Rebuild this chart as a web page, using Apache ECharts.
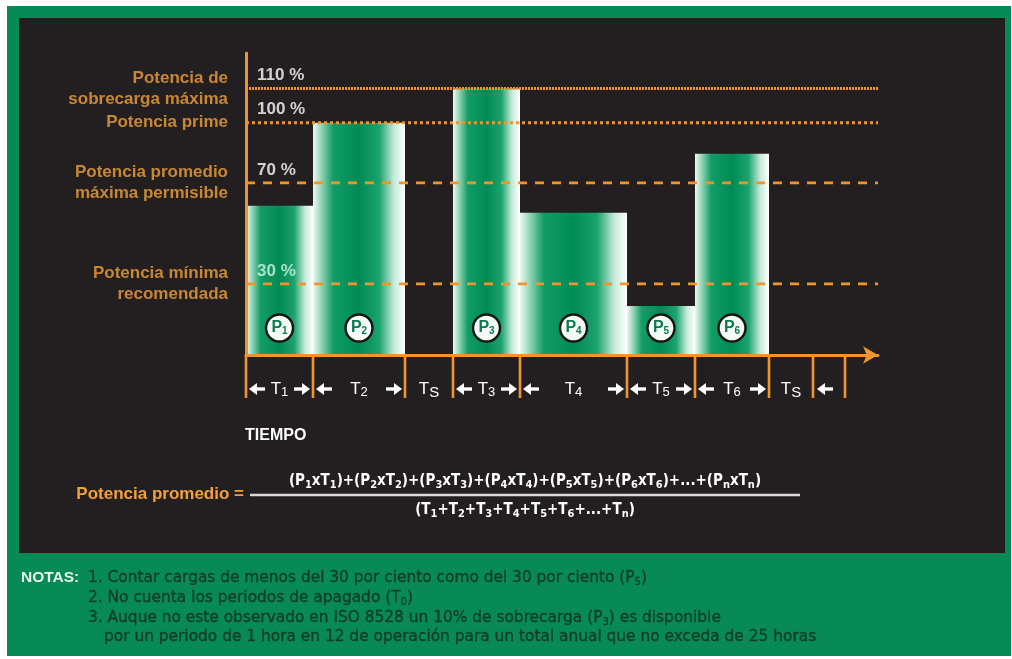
<!DOCTYPE html>
<html><head><meta charset="utf-8">
<script src="https://cdn.jsdelivr.net/npm/echarts@6/dist/echarts.min.js"></script>
<style>html,body{margin:0;padding:0;background:#fff}#c{width:1012px;height:659px}</style>
</head><body><div id="c"></div>
<script>
// ---- data (heights are "as drawn", in % of prime power) ----
const levelValues = [114.7, 100, 74.1, 30.6];
const levelPercentLabels = ['110 %', '100 %', '70 %', '30 %'];
const levelNames = ['Potencia de\nsobrecarga máxima', 'Potencia prime', 'Potencia promedio\nmáxima permisible', 'Potencia mínima\nrecomendada'];
const segmentNames = ['1', '2', 'S', '3', '4', '5', '6', 'S', ''];
const segmentDurations = [67, 92, 48, 67, 107, 68, 74, 44, 32];
const loadNames = ['1', '2', null, '3', '4', '5', '6', null, null];
const loadValues = [64.2, 100, null, 114.7, 61.2, 21.1, 86.6, null, null];
const axisMaxX = 632;
const axisMaxY = 130;

// ---- build ----
const ORANGE = '#ef952c';
const LABEL_OR = '#f3a038';
const GREEN = '#078a55';
const DARK = '#231f20';
const NOTE = '#113d27';
const FONT = 'Liberation Sans, Arial, sans-serif';
const WIDE = '"DejaVu Sans", "Liberation Sans", sans-serif';
const NARROW = '"Liberation Sans Narrow", "DejaVu Sans Condensed", "Liberation Sans", sans-serif';

const starts = [];
let acc = 0;
segmentDurations.forEach(d => { starts.push(acc); acc += d; });

const barData = [];
loadValues.forEach((v, i) => { if (v != null) barData.push([starts[i], starts[i] + segmentDurations[i], v, loadNames[i]]); });
const segData = segmentNames.map((n, i) => [starts[i], starts[i] + segmentDurations[i], n, i]);

const lineStyles = [
  { type: [2, 1], width: 3 },
  { type: [3, 3], width: 3 },
  { type: [9, 8], width: 2.6 },
  { type: [9, 8], width: 2.6 }
];

const levelSeries = levelValues.map((v, i) => ({
  type: 'line', data: [[0, v], [axisMaxX, v]], symbol: 'none', silent: true, z: 4,
  lineStyle: Object.assign({ color: ORANGE }, lineStyles[i])
}));

const gradStops = [
  { offset: 0, color: '#eef9f4' }, { offset: 0.09, color: '#93d5b6' },
  { offset: 0.22, color: '#129c66' }, { offset: 0.5, color: '#008a55' },
  { offset: 0.72, color: '#1ba36e' }, { offset: 0.88, color: '#c4eada' },
  { offset: 1, color: '#ffffff' }
];

function arrow(x, y, dir) {
  const len = 16, hw = 6, hl = 8;
  return [
    { type: 'line', shape: { x1: x - dir * hl + dir * 1, y1: y, x2: x - dir * len, y2: y }, style: { stroke: '#fff', lineWidth: 3.4 } },
    { type: 'polygon', shape: { points: [[x, y], [x - dir * hl, y - hw], [x - dir * hl, y + hw]] }, style: { fill: '#fff' } }
  ];
}

function noteText(x, y, t) {
  return { type: 'text', z: 50, x: x, y: y, style: { text: t, fill: NOTE, stroke: NOTE, lineWidth: 0.35, font: '15.4px ' + WIDE, verticalAlign: 'middle',
    rich: { s: { fill: NOTE, font: '10px ' + WIDE, padding: [8, 0, 0, 0] } } } };
}

const option = {
  backgroundColor: '#ffffff',
  animation: false,
  grid: { left: 246, right: 134, top: 53, bottom: 304 },
  xAxis: {
    type: 'value', min: 0, max: axisMaxX, z: 10,
    axisLine: { show: true, lineStyle: { color: ORANGE, width: 3 }, symbol: ['none', 'arrow'], symbolSize: [13, 15] },
    axisTick: { show: false }, axisLabel: { show: false }, splitLine: { show: false }
  },
  yAxis: {
    type: 'value', min: 0, max: axisMaxY, z: 10,
    axisLine: { show: true, lineStyle: { color: ORANGE, width: 3 } },
    axisTick: { show: false }, axisLabel: { show: false }, splitLine: { show: false }
  },
  graphic: [
    { type: 'rect', z: -20, shape: { x: 7, y: 6, width: 1004, height: 650 }, style: { fill: GREEN } },
    { type: 'rect', z: -19, shape: { x: 19, y: 18, width: 986, height: 535 }, style: { fill: DARK } },
    { type: 'text', z: 50, x: 245, y: 436, style: { text: 'TIEMPO', fill: '#fff', font: 'bold 16px ' + FONT, verticalAlign: 'middle' } },
    { type: 'text', z: 50, x: 244, y: 494, style: { text: 'Potencia promedio =', fill: LABEL_OR, font: 'bold 17px ' + FONT, align: 'right', verticalAlign: 'middle' } },
    { type: 'line', z: 50, shape: { x1: 250, y1: 495, x2: 800, y2: 495 }, style: { stroke: '#d9d9d9', lineWidth: 2.5 } },
    { type: 'text', z: 50, x: 525, y: 481, style: {
      text: '(P{s|1}xT{s|1})+(P{s|2}xT{s|2})+(P{s|3}xT{s|3})+(P{s|4}xT{s|4})+(P{s|5}xT{s|5})+(P{s|6}xT{s|6})+...+(P{s|n}xT{s|n})',
      fill: '#fff', font: 'bold 15px ' + NARROW, align: 'center', verticalAlign: 'middle',
      rich: { s: { fill: '#fff', font: 'bold 11px ' + NARROW, padding: [8, 0, 0, 0] } } } },
    { type: 'text', z: 50, x: 525, y: 510, style: {
      text: '(T{s|1}+T{s|2}+T{s|3}+T{s|4}+T{s|5}+T{s|6}+...+T{s|n})',
      fill: '#fff', font: 'bold 15px ' + NARROW, align: 'center', verticalAlign: 'middle',
      rich: { s: { fill: '#fff', font: 'bold 11px ' + NARROW, padding: [8, 0, 0, 0] } } } },
    { type: 'text', z: 50, x: 21, y: 578, style: { text: 'NOTAS:', fill: '#e9f6ef', font: 'bold 15.5px ' + FONT, verticalAlign: 'middle' } },
    noteText(88, 578, '1. Contar cargas de menos del 30 por ciento como del 30 por ciento (P{s|5})'),
    noteText(88, 598, '2. No cuenta los periodos de apagado (T{s|0})'),
    noteText(88, 618, '3. Auque no este observado en ISO 8528 un 10% de sobrecarga (P{s|3}) es disponible'),
    noteText(104, 637, 'por un periodo de 1 hora en 12 de operación para un total anual que no exceda de 25 horas')
  ],
  series: [
    {
      type: 'custom', name: 'cargas', z: 2, clip: false,
      data: barData,
      renderItem: function (params, api) {
        const s = api.coord([api.value(0), api.value(2)]);
        const e = api.coord([api.value(1), 0]);
        const cx = (s[0] + e[0]) / 2, cy = e[1] - 27;
        const name = barData[params.dataIndex][3];
        return { type: 'group', children: [
          { type: 'rect', shape: { x: s[0], y: s[1], width: e[0] - s[0], height: e[1] - s[1] },
            style: { fill: new echarts.graphic.LinearGradient(0, 0, 1, 0, gradStops) } },
          { type: 'circle', z2: 20, shape: { cx: cx, cy: cy, r: 13.5 }, style: { fill: '#f4fbf7', stroke: '#151515', lineWidth: 2.4 } },
          { type: 'text', z2: 21, x: cx, y: cy, style: { text: 'P{s|' + name + '}', fill: '#0b7a4f', font: 'bold 16px ' + FONT,
            align: 'center', verticalAlign: 'middle', rich: { s: { fill: '#0b7a4f', font: 'bold 10px ' + FONT, padding: [7, 0, 0, 0] } } } }
        ] };
      }
    },
    ...levelSeries,
    {
      type: 'scatter', name: 'nombres', symbolSize: 0, silent: true, z: 20,
      data: levelValues.map((v, i) => ({ value: [0, v], label: { formatter: levelNames[i] } })),
      label: { show: true, position: 'left', distance: 18, color: LABEL_OR, fontFamily: FONT, fontWeight: 'bold', fontSize: 17, lineHeight: 21, align: 'right' }
    },
    {
      type: 'scatter', name: 'porcentajes', symbolSize: 0, silent: true, z: 20,
      data: levelValues.map((v, i) => ({ value: [0, v], label: { formatter: levelPercentLabels[i], color: i === 3 ? '#d6f3e6' : '#ffffff' } })),
      label: { show: true, position: [11, -13], align: 'left', verticalAlign: 'middle', fontFamily: FONT, fontWeight: 'bold', fontSize: 17 }
    },
    {
      type: 'custom', name: 'tiempos', z: 12, clip: false,
      data: segData,
      renderItem: function (params, api) {
        const a = api.coord([api.value(0), 0]);
        const b = api.coord([api.value(1), 0]);
        const idx = params.dataIndex;
        const name = segData[idx][2];
        const y0 = a[1], y1 = a[1] + 43, ym = a[1] + 34;
        const kids = [{ type: 'line', shape: { x1: a[0], y1: y0, x2: a[0], y2: y1 }, style: { stroke: ORANGE, lineWidth: 2.6 } }];
        if (idx === segData.length - 1) {
          kids.push({ type: 'line', shape: { x1: b[0], y1: y0, x2: b[0], y2: y1 }, style: { stroke: ORANGE, lineWidth: 2.6 } });
          kids.push(...arrow(a[0] + 4, ym, -1));
        } else if (name !== '') {
          kids.push({ type: 'text', x: (a[0] + b[0]) / 2, y: ym, style: { text: 'T{s|' + name + '}', fill: '#fff', font: '17px ' + FONT,
            align: 'center', verticalAlign: 'middle', rich: { s: { fill: '#fff', font: (name === 'S' ? '15px ' : '13px ') + FONT, padding: [7, 0, 0, 0] } } } });
          if (name !== 'S') {
            kids.push(...arrow(a[0] + 3, ym, -1));
            kids.push(...arrow(b[0] - 3, ym, 1));
          }
        }
        return { type: 'group', children: kids };
      }
    }
  ]
};
const chart = echarts.init(document.getElementById('c'), null, { renderer: 'canvas' });
chart.setOption(option);
</script>
</body></html>
